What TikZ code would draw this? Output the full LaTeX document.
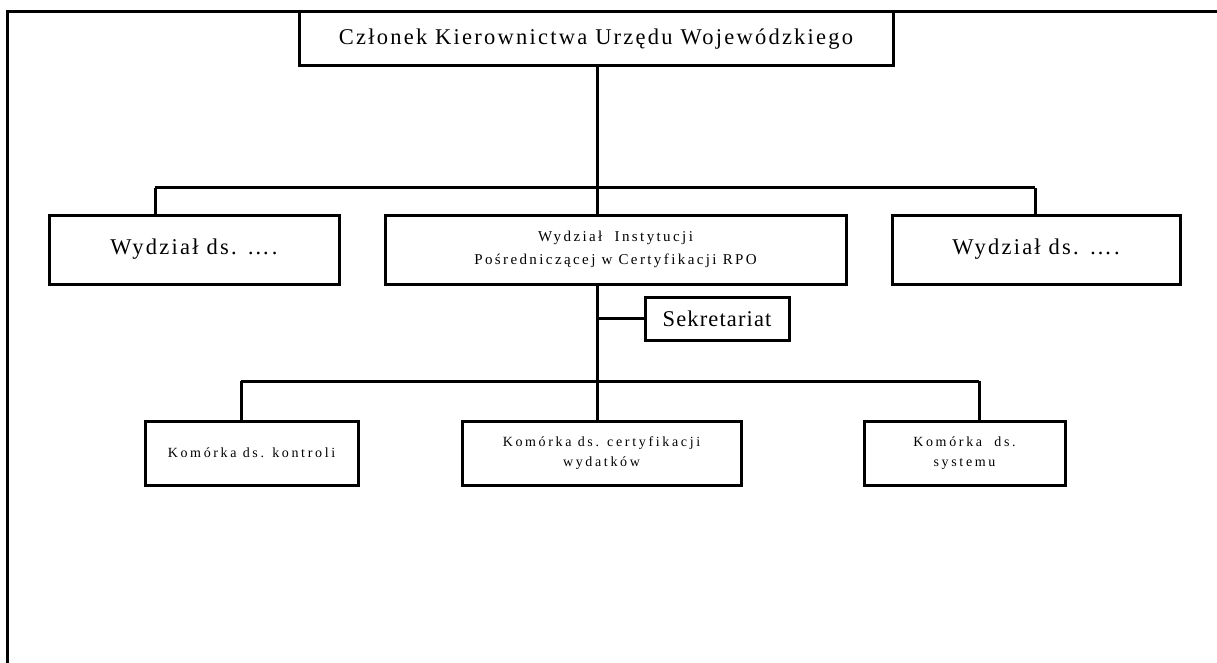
\documentclass[tikz,border=0pt]{standalone}
\usepackage{fontspec}
\setmainfont{Liberation Serif}
\tikzset{
  unit/.style={draw,line width=3pt,inner sep=0pt,align=center},
  link/.style={line width=3pt},
  bigtext/.style={font=\fontsize{22.5}{26}\selectfont\addfontfeature{LetterSpace=10}},
  sektext/.style={font=\fontsize{22.5}{26}\selectfont\addfontfeature{LetterSpace=5}},
  midtext/.style={font=\fontsize{15}{23}\selectfont\addfontfeature{LetterSpace=16}},
  smalltext/.style={font=\fontsize{14}{20}\selectfont\addfontfeature{LetterSpace=19}}
}
\begin{document}
\begin{tikzpicture}[x=1pt,y=-1pt]
  \useasboundingbox (0,0) rectangle (1217,663);
  \draw[link] (7,663) -- (7,12) -- (1217,12);

  % boxes
  \node[unit,bigtext,minimum width=594pt,minimum height=54pt] (kier) at (596,39)
    {Członek Kierownictwa Urzędu Wojewódzkiego};
  \node[unit,bigtext,minimum width=290pt,minimum height=69pt] (wydl) at (194,249.5)
    {Wydział ds. \dots.};
  \node[unit,midtext,minimum width=461pt,minimum height=69pt] (ipoc) at (615.5,249.5)
    {Wydział \ Instytucji\\Pośredniczącej w Certyfikacji RPO};
  \node[unit,bigtext,minimum width=288pt,minimum height=69pt] (wydr) at (1036,249.5)
    {Wydział ds. \dots.};
  \node[unit,sektext,minimum width=144pt,minimum height=43pt] (sekr) at (717,318.5)
    {Sekretariat};
  \node[unit,smalltext,minimum width=213pt,minimum height=64pt] (kontr) at (251.5,453)
    {Komórka ds. kontroli};
  \node[unit,smalltext,minimum width=279pt,minimum height=64pt] (certy) at (601.5,453)
    {Komórka ds. certyfikacji\\wydatków};
  \node[unit,smalltext,minimum width=201pt,minimum height=64pt] (syst) at (964.5,453)
    {Komórka \ ds.\\systemu};

  % connectors
  \coordinate (spine) at (597,188);
  \coordinate (bar1l) at (155,188);
  \coordinate (bar1r) at (1035,188);
  \coordinate (bar2l) at (241,381);
  \coordinate (bar2r) at (979,381);

  \draw[link] (kier.south -| spine) -- (ipoc.north -| spine);
  \draw[link] (bar1l) -- (bar1r);
  \draw[link] (bar1l) -- (bar1l |- wydl.north);
  \draw[link] (bar1r) -- (bar1r |- wydr.north);
  \draw[link] (ipoc.south -| spine) -- (certy.north -| spine);
  \draw[link] (sekr.west) -- (sekr.west -| spine);
  \draw[link] (bar2l) -- (bar2r);
  \draw[link] (bar2l) -- (bar2l |- kontr.north);
  \draw[link] (bar2r) -- (bar2r |- syst.north);
\end{tikzpicture}
\end{document}
